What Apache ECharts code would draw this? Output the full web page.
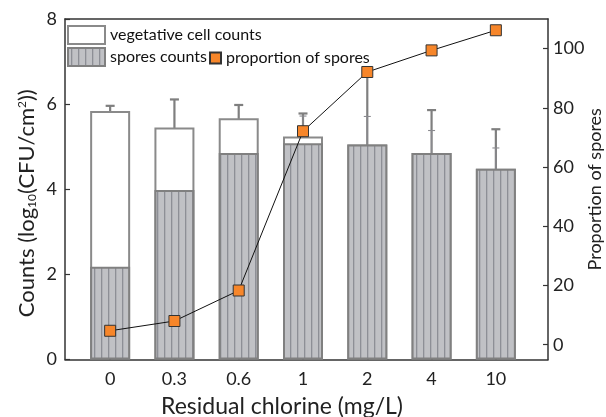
<!DOCTYPE html>
<html style="height: 100%">
<head>
    <title>Residual chlorine</title>
    <meta charset="utf-8">
</head>
<body style="height: 100%; margin: 0; background: #fff">
<div id="container" style="height: 417px; width: 606px"></div>
<script src="https://cdn.jsdelivr.net/npm/echarts@6/dist/echarts.min.js"></script>
<script type="text/javascript">
    // data
    var categories = ['0', '0.3', '0.6', '1', '2', '4', '10'];
    var vegetative = [5.84, 5.45, 5.67, 5.24, 5.05, 4.85, 4.48];
    var vegetativeErr = [0.12, 0.66, 0.31, 0.54, 1.65, 1.01, 0.93];
    var spores = [2.18, 3.98, 4.85, 5.08, 5.05, 4.85, 4.48];
    var sporesErr = [0.51, 0.33, 0.16, 0.64, 0.66, 0.53, 0.49];
    var proportion = [4.7, 8.0, 18.3, 72.1, 92.1, 99.4, 106.2];
    var countTicks = [0, 2, 4, 6, 8];
    var proportionTicks = [0, 20, 40, 60, 80, 100];

    var font = 'Lato';

    // vertical stripes for the spores bars
    var cv = document.createElement('canvas');
    cv.width = 7;
    cv.height = 10;
    var ctx = cv.getContext('2d');
    ctx.fillStyle = '#c0c1c5';
    ctx.fillRect(0, 0, 7, 10);
    ctx.fillStyle = '#8d8f96';
    ctx.fillRect(3, 0, 1.3, 10);
    var stripes = {image: cv, repeat: 'repeat'};

    function errData(vals, errs) {
        var out = [];
        for (var i = 0; i < vals.length; i++) {
            out.push([i, vals[i] - errs[i], vals[i] + errs[i]]);
        }
        return out;
    }

    function errRender(capHalf, lw, color) {
        return function (params, api) {
            var x = api.value(0);
            var lo = api.coord([x, api.value(1)]);
            var hi = api.coord([x, api.value(2)]);
            var st = {stroke: color, lineWidth: lw};
            return {
                type: 'group',
                children: [
                    {type: 'line', shape: {x1: hi[0], y1: hi[1], x2: lo[0], y2: lo[1]}, style: st},
                    {type: 'line', shape: {x1: hi[0] - capHalf, y1: hi[1], x2: hi[0] + capHalf, y2: hi[1]}, style: st},
                    {type: 'line', shape: {x1: lo[0] - capHalf, y1: lo[1], x2: lo[0] + capHalf, y2: lo[1]}, style: st}
                ]
            };
        };
    }

    var dom = document.getElementById('container');
    var myChart = echarts.init(dom, null, {renderer: 'canvas'});

    var legendText = {fontFamily: font, fontSize: 16, color: '#111'};

    myChart.setOption({
        animation: false,
        textStyle: {fontFamily: font},
        legend: [
            {
                left: 67, top: 25, padding: 0, itemWidth: 37, itemHeight: 18,
                textStyle: legendText,
                data: [{name: 'vegetative cell counts', icon: 'rect'}]
            },
            {
                left: 67, top: 47, padding: 0, itemWidth: 37, itemHeight: 18,
                textStyle: legendText,
                data: [{name: 'spores counts', icon: 'rect'}]
            },
            {
                left: 209, top: 50, padding: 0, itemWidth: 11, itemHeight: 11,
                textStyle: legendText,
                data: [{name: 'proportion of spores', icon: 'rect'}]
            }
        ],
        grid: [
            {left: 78, right: 78, top: 19, bottom: 57.5, outerBoundsMode: 'none'},
            {left: 65, right: 58, top: 19, bottom: 57.5, outerBoundsMode: 'none'}
        ],
        xAxis: [
            {
                type: 'category', gridIndex: 0, data: categories,
                axisLine: {show: false},
                axisTick: {show: true, inside: true, length: 5, alignWithLabel: true, lineStyle: {color: '#222', width: 1.5}},
                axisLabel: {margin: 11, fontSize: 18, color: '#222'},
                name: 'Residual chlorine (mg/L)', nameLocation: 'middle', nameGap: 36,
                nameMoveOverlap: false,
                nameTextStyle: {fontSize: 23, color: '#222', padding: [0, 42, 0, 0]}
            },
            {
                type: 'value', gridIndex: 1, min: 0, max: 1, position: 'bottom',
                axisLine: {onZero: false, lineStyle: {color: '#333', width: 1.5}},
                axisTick: {show: false}, axisLabel: {show: false}, splitLine: {show: false}
            },
            {
                type: 'value', gridIndex: 1, min: 0, max: 1, position: 'top',
                axisLine: {onZero: false, lineStyle: {color: '#333', width: 1.5}},
                axisTick: {show: false}, axisLabel: {show: false}, splitLine: {show: false}
            }
        ],
        yAxis: [
            {type: 'value', gridIndex: 0, min: 0, max: 8, show: false},
            {type: 'value', gridIndex: 0, min: -5, max: 110, show: false},
            {
                type: 'value', gridIndex: 1, min: 0, max: 8, interval: 2, position: 'left',
                axisLine: {show: true, onZero: false, lineStyle: {color: '#333', width: 1.5}},
                axisTick: {show: true, inside: true, length: 5, lineStyle: {color: '#333', width: 1.2}},
                axisLabel: {margin: 8, fontSize: 18, color: '#222', customValues: countTicks},
                splitLine: {show: false},
                name: 'Counts (log{sub|10}(CFU/cm{sup|2}))', nameLocation: 'middle', nameGap: 27,
                nameMoveOverlap: false,
                nameTextStyle: {
                    fontSize: 22, color: '#222', padding: [0, 28, 0, 0],
                    rich: {
                        sub: {fontSize: 12, color: '#222', verticalAlign: 'bottom', padding: [9, 0, 0, 0]},
                        sup: {fontSize: 12, color: '#222', verticalAlign: 'top', padding: [0, 0, 9, 0]}
                    }
                }
            },
            {
                type: 'value', gridIndex: 1, min: -5, max: 110, position: 'right',
                axisLine: {show: true, onZero: false, lineStyle: {color: '#333', width: 1.5}},
                axisTick: {show: true, inside: true, length: 5, lineStyle: {color: '#333', width: 1.2}, customValues: proportionTicks},
                axisLabel: {margin: 5, fontSize: 18, color: '#222', customValues: proportionTicks},
                splitLine: {show: false},
                name: 'Proportion of spores', nameLocation: 'middle', nameGap: 38,
                nameMoveOverlap: false,
                nameTextStyle: {fontSize: 18, color: '#222'}
            }
        ],
        series: [
            {
                name: 'vegetative cell counts', type: 'bar',
                xAxisIndex: 0, yAxisIndex: 0,
                barWidth: 40, barGap: '-100%',
                itemStyle: {color: '#ffffff', borderColor: '#8a8a8a', borderWidth: 2},
                data: vegetative
            },
            {
                name: 'vegetative err', type: 'custom',
                xAxisIndex: 0, yAxisIndex: 0,
                renderItem: errRender(4.5, 2.2, '#7f7f7f'),
                data: errData(vegetative, vegetativeErr)
            },
            {
                name: 'spores counts', type: 'bar',
                xAxisIndex: 0, yAxisIndex: 0,
                barWidth: 40, barGap: '-100%',
                itemStyle: {color: stripes, borderColor: '#808080', borderWidth: 2},
                data: spores
            },
            {
                name: 'spores err', type: 'custom',
                xAxisIndex: 0, yAxisIndex: 0,
                renderItem: errRender(3.5, 1.1, '#8a8a8f'),
                data: errData(spores, sporesErr)
            },
            {
                name: 'proportion of spores', type: 'line',
                xAxisIndex: 0, yAxisIndex: 1,
                symbol: 'rect', symbolSize: 11,
                lineStyle: {color: '#111', width: 1},
                itemStyle: {color: '#f7862a', borderColor: '#333', borderWidth: 1},
                data: proportion,
                z: 5
            }
        ]
    });
</script>
</body>
</html>
